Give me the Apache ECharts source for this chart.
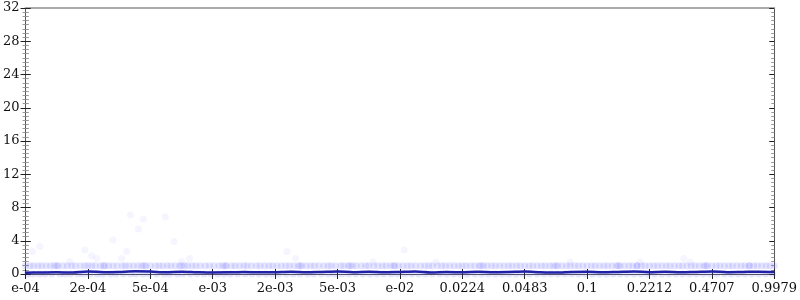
<!DOCTYPE html>
<html>
<head>
<meta charset="utf-8">
<script src="https://cdn.jsdelivr.net/npm/echarts@6/dist/echarts.min.js"></script>
<style>html,body{margin:0;padding:0;background:#fff}#c{width:800px;height:300px}</style>
</head>
<body>
<div id="c"></div>
<script>
// x positions are in axis units: one unit per labelled tick (0..12)
const xTickLabels = ["e-04","2e-04","5e-04","e-03","2e-03","5e-03","e-02","0.0224","0.0483","0.1","0.2212","0.4707","0.9979"];
const yTicks = [0,4,8,12,16,20,24,28,32];

// points sitting at y = 1
const band1X = [0.00,0.07,0.13,0.2,0.26,0.33,0.4,0.46,0.5,0.52,0.6,0.67,0.74,0.8,0.88,0.95,1.0,1.06,1.12,1.2,1.25,1.27,1.33,1.4,1.47,1.55,1.6,1.66,1.73,1.8,1.86,1.9,1.93,2.0,2.08,2.14,2.2,2.27,2.33,2.4,2.47,2.5,2.55,2.6,2.67,2.73,2.8,2.88,2.95,3.02,3.1,3.16,3.2,3.22,3.3,3.36,3.43,3.5,3.55,3.62,3.7,3.76,3.83,3.9,3.96,4.03,4.1,4.17,4.23,4.3,4.37,4.4,4.43,4.5,4.57,4.63,4.7,4.78,4.85,4.9,4.97,5.05,5.1,5.17,5.2,5.24,5.3,5.38,5.45,5.5,5.58,5.65,5.72,5.78,5.85,5.9,5.92,5.98,6.05,6.12,6.18,6.25,6.33,6.4,6.46,6.52,6.6,6.67,6.73,6.8,6.87,6.94,7.0,7.06,7.13,7.2,7.27,7.3,7.34,7.4,7.47,7.53,7.6,7.67,7.74,7.8,7.87,7.93,8.0,8.07,8.13,8.2,8.27,8.33,8.4,8.46,8.5,8.53,8.6,8.67,8.73,8.8,8.86,8.93,9.0,9.07,9.13,9.2,9.27,9.33,9.4,9.47,9.5,9.53,9.6,9.67,9.73,9.8,9.8,9.87,9.93,10.0,10.07,10.13,10.2,10.27,10.33,10.4,10.47,10.53,10.6,10.67,10.73,10.8,10.87,10.9,10.93,11.0,11.07,11.13,11.2,11.27,11.33,11.4,11.47,11.53,11.6,11.6,11.67,11.73,11.8,11.87,11.93,12.0];

// points sitting at y = 0
const band0X = [0.03,0.12,0.22,0.31,0.42,0.55,0.63,0.72,0.84,0.93,1.03,1.15,1.24,1.36,1.45,1.57,1.68,1.77,1.88,1.98,2.1,2.22,2.31,2.43,2.52,2.64,2.75,2.86,2.97,3.08,3.18,3.28,3.4,3.52,3.63,3.74,3.85,3.95,4.06,4.18,4.29,4.4,4.52,4.62,4.74,4.85,4.95,5.07,5.18,5.29,5.41,5.52,5.63,5.74,5.86,5.96,6.08,6.19,6.3,6.41,6.52,6.64,6.75,6.86,6.97,7.08,7.2,7.31,7.42,7.53,7.64,7.75,7.86,7.97,8.08,8.2,8.31,8.42,8.53,8.64,8.75,8.86,8.97,9.09,9.2,9.31,9.42,9.53,9.64,9.75,9.86,9.97,10.08,10.2,10.31,10.42,10.53,10.64,10.75,10.86,10.97,11.08,11.2,11.31,11.42,11.53,11.64,11.75,11.86,11.97];

// scattered higher points
const outlierX = [0.11,0.23,0.71,0.95,1.06,1.14,1.40,1.54,1.62,1.68,1.81,1.89,2.24,2.38,2.50,2.63,4.19,4.33,5.57,6.07,6.58,8.73,9.85,10.55,10.65];
const outlierY = [2.7,3.3,1.5,2.9,2.2,1.85,4.1,1.85,2.7,7.1,5.4,6.6,6.9,3.9,1.5,1.85,2.7,1.85,1.45,2.9,1.45,1.45,1.45,1.85,1.45];

// dark summary line
const lineX = [0,0.25,0.5,0.75,1,1.25,1.5,1.75,2,2.25,2.5,2.75,3,3.25,3.5,3.75,4,4.25,4.5,4.75,5,5.25,5.5,5.75,6,6.25,6.5,6.75,7,7.25,7.5,7.75,8,8.25,8.5,8.75,9,9.25,9.5,9.75,10,10.25,10.5,10.75,11,11.25,11.5,11.75,12];
const lineY = [0.15,0.18,0.2,0.18,0.3,0.22,0.25,0.32,0.3,0.2,0.28,0.22,0.18,0.2,0.25,0.2,0.22,0.28,0.2,0.25,0.3,0.22,0.28,0.2,0.25,0.3,0.18,0.25,0.2,0.28,0.22,0.25,0.3,0.22,0.18,0.25,0.28,0.2,0.25,0.3,0.22,0.28,0.2,0.25,0.3,0.22,0.25,0.28,0.25];

const font = "'DejaVu Serif', 'Liberation Serif', serif";
const chart = echarts.init(document.getElementById('c'), null, {renderer:'canvas'});

function yAx(pos, inside, labels){
  return {
    type:'value', position:pos, min:0, max:32, interval:4,
    axisLine:{show:true, lineStyle:{color:'#555', width:1}},
    axisTick:{show:true, inside:inside, length:5, lineStyle:{color:'#222', width:1}},
    minorTick:{show:true, splitNumber:8, length:3, lineStyle:{color:'#999', width:1}},
    axisLabel:{show:labels, color:'#111', fontFamily:font, fontSize:13, margin:6,
      formatter:function(v){ return yTicks.indexOf(v)>=0 ? String(v) : ''; }},
    splitLine:{show:false}
  };
}
function xAx(inside, labels, pos){
  return {
    type:'value', position:pos||'bottom', min:0, max:12, interval:1,
    axisLine:{show:true, onZero:false, lineStyle:{color: pos==='top' ? '#aaa' : '#555', width: pos==='top'?2:1}},
    axisTick:{show:pos!=='top', inside:inside, length:5, lineStyle:{color:'#222', width:1}},
    axisLabel:{show:labels, color:'#111', fontFamily:font, fontSize:13, margin:8,
      showMinLabel:true, showMaxLabel:true, hideOverlap:false,
      formatter:function(v){ return xTickLabels[Math.round(v)] || ''; }},
    splitLine:{show:false}
  };
}

chart.setOption({
  animation:false,
  grid:{left:22, right:23, top:8, bottom:26, containLabel:false},
  xAxis:[xAx(false,true), xAx(true,false), xAx(false,false,'top')],
  yAxis:[yAx('left',false,true), yAx('left',true,false), yAx('right',false,false), yAx('right',true,false)],
  series:[
    {type:'scatter', xAxisIndex:0, yAxisIndex:0, symbolSize:7,
      itemStyle:{color:'rgba(80,80,255,0.18)'},
      data: band1X.map(x=>[x,1])},
    {type:'scatter', xAxisIndex:0, yAxisIndex:0, symbolSize:7,
      itemStyle:{color:'rgba(80,80,255,0.18)'},
      data: band0X.map(x=>[x,0])},
    {type:'scatter', xAxisIndex:0, yAxisIndex:0, symbolSize:7,
      itemStyle:{color:'rgba(90,90,255,0.08)'},
      data: outlierX.map((x,i)=>[x,outlierY[i]])},
    {type:'line', xAxisIndex:0, yAxisIndex:0, showSymbol:false, smooth:0.3,
      lineStyle:{color:'#1f1fa8', width:2.5},
      data: lineX.map((x,i)=>[x,lineY[i]])}
  ]
});
</script>
</body>
</html>
